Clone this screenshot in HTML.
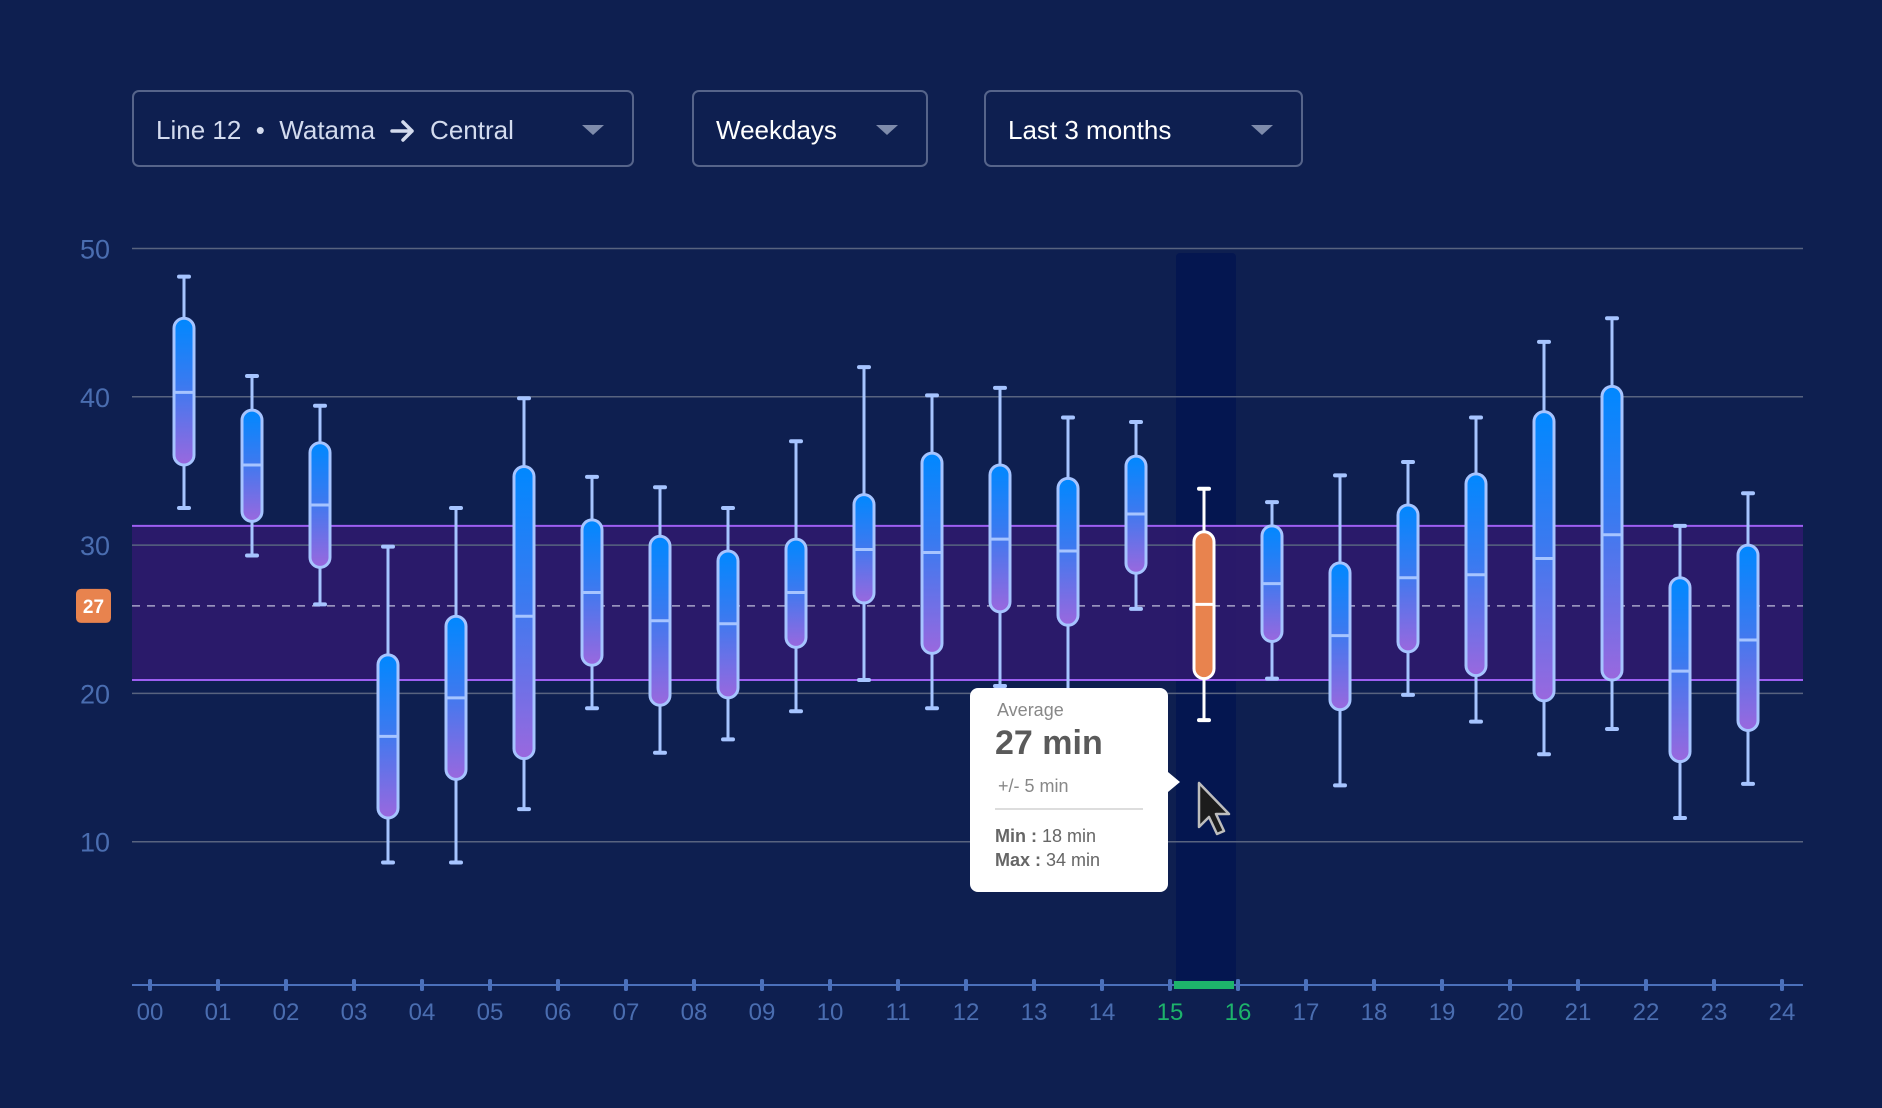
<!DOCTYPE html>
<html><head><meta charset="utf-8">
<style>
html,body{margin:0;padding:0;background:#0e1f50;}
body{width:1882px;height:1108px;position:relative;overflow:hidden;font-family:"Liberation Sans",sans-serif;}
.dd{position:absolute;top:90px;height:77px;border:2px solid #56648a;border-radius:7px;box-sizing:border-box;color:#d3dbee;font-size:26px;line-height:77px;padding-left:22px;}
.dd .car{position:absolute;top:33px;width:0;height:0;border-left:11px solid transparent;border-right:11px solid transparent;border-top:10px solid #7e8bab;}
svg.main{position:absolute;left:0;top:0;}
.tip{position:absolute;left:970px;top:688px;width:198px;height:204px;background:#fff;border-radius:8px;color:#666;}
.tip:after{content:"";position:absolute;right:-12px;top:84px;border-top:10px solid transparent;border-bottom:10px solid transparent;border-left:12px solid #fff;}
</style></head>
<body>
<div class="dd" style="left:132px;width:502px;">Line 12 &nbsp;•&nbsp; Watama &nbsp;<svg width="26" height="22" viewBox="0 0 26 22" style="vertical-align:-3px"><path d="M2 11 H22 M13 2 L22 11 L13 20" stroke="#d3dbee" stroke-width="3.5" fill="none" stroke-linecap="round" stroke-linejoin="round"/></svg>&nbsp; Central<span class="car" style="right:28px"></span></div>
<div class="dd" style="left:692px;width:236px;color:#fff">Weekdays<span class="car" style="right:28px"></span></div>
<div class="dd" style="left:984px;width:319px;color:#fff">Last 3 months<span class="car" style="right:28px"></span></div>

<svg id="chart" class="main" width="1882" height="1108"></svg>

<div class="tip">
 <div style="position:absolute;left:27px;top:12px;font-size:18px;color:#888">Average</div>
 <div style="position:absolute;left:25px;top:36px;font-size:34px;font-weight:bold;color:#5a5a5a">27 min</div>
 <div style="position:absolute;left:28px;top:88px;font-size:18px;color:#888">+/- 5 min</div>
 <div style="position:absolute;left:25px;right:25px;top:120px;border-top:2px solid #ddd"></div>
 <div style="position:absolute;left:25px;top:136px;font-size:18px;color:#666;line-height:24px"><b>Min :</b> 18 min<br><b>Max :</b> 34 min</div>
</div>

<script>
const hours = ["00","01","02","03","04","05","06","07","08","09","10","11","12","13","14","15","16","17","18","19","20","21","22","23","24"];
const whiskerHigh = [48.1,41.4,39.4,29.9,32.5,39.9,34.6,33.9,32.5,37.0,42.0,40.1,40.6,38.6,38.3,33.8,32.9,34.7,35.6,38.6,43.7,45.3,31.3,33.5];
const q3 = [45.3,39.1,36.9,22.6,25.2,35.3,31.7,30.6,29.6,30.4,33.4,36.2,35.4,34.5,36.0,30.9,31.3,28.8,32.7,34.8,39.0,40.7,27.8,30.0];
const median = [40.3,35.4,32.7,17.1,19.7,25.2,26.8,24.9,24.7,26.8,29.7,29.5,30.4,29.6,32.1,26.0,27.4,23.9,27.8,28.0,29.1,30.7,21.5,23.6];
const q1 = [35.4,31.6,28.5,11.6,14.2,15.6,21.9,19.2,19.7,23.1,26.1,22.7,25.5,24.6,28.1,21.0,23.5,18.9,22.8,21.2,19.5,20.9,15.4,17.5];
const whiskerLow = [32.5,29.3,26.0,8.6,8.6,12.2,19.0,16.0,16.9,18.8,20.9,19.0,20.5,20.1,25.7,18.2,21.0,13.8,19.9,18.1,15.9,17.6,11.6,13.9];
const yTicks = [10,20,30,40,50];
const bandHigh = 31.3, bandLow = 20.9, avgLine = 25.9, avgLabel = "27";
const selected = 15;

const NS="http://www.w3.org/2000/svg";
const svg=document.getElementById('chart');
const X0=150, DX=68, XR=1803, XL=132;
function y(v){return 990 - v*14.83;}
function xc(i){return X0 + DX*(i+0.5);}
function xt(i){return X0 + DX*i;}
function mk(tag,attrs,parent){const e=document.createElementNS(NS,tag);for(const k in attrs)e.setAttribute(k,attrs[k]);(parent||svg).appendChild(e);return e;}

const defs=mk('defs',{});
const g=mk('linearGradient',{id:'bg',x1:0,y1:0,x2:0,y2:1},defs);
mk('stop',{offset:'0','stop-color':'#0088ff'},g);
mk('stop',{offset:'0.45','stop-color':'#3a7af0'},g);
mk('stop',{offset:'1','stop-color':'#9a68de'},g);

let e=mk('rect',{x:xt(selected)+6,y:253,width:DX-8,height:732,fill:'#041650',rx:4});



e=mk('rect',{x:XL,y:y(bandHigh),width:XR-XL,height:y(bandLow)-y(bandHigh),fill:'#2c1a6c',opacity:0.92});



yTicks.forEach(t=>{
  const l=mk('line',{x1:XL,x2:XR,y1:y(t),y2:y(t),stroke:'#58637f','stroke-width':1.5});
  
  
  const tx=mk('text',{x:110,y:y(t)+10,'text-anchor':'end','font-size':27,fill:'#4a6db0','font-family':'Liberation Sans, sans-serif'});
  tx.textContent=t;
  
  
});
[bandHigh,bandLow].forEach((v,k)=>{
  const l=mk('line',{x1:XL,x2:XR,y1:y(v),y2:y(v),stroke:'#9d5ff2','stroke-width':2});
  
  
});
e=mk('line',{x1:XL,x2:XR,y1:y(avgLine),y2:y(avgLine),stroke:'#a7a3c8','stroke-width':1.5,'stroke-dasharray':'8 7'});


e=mk('rect',{x:76,y:y(avgLine)-17,width:35,height:34,rx:5,fill:'#e8834e'});


e=mk('text',{x:93.5,y:y(avgLine)+7,'text-anchor':'middle','font-size':19,'font-weight':'bold',fill:'#fff'});
e.textContent=avgLabel;



for(let i=0;i<q3.length;i++){
  const sel=i===selected;
  const c=xc(i), stroke=sel?'#ffffff':'#a6c4ff';
  const grp=mk('g',{});
  
  
  mk('line',{x1:c,x2:c,y1:y(whiskerHigh[i]),y2:y(whiskerLow[i]),stroke:stroke,'stroke-width':3},grp);
  mk('line',{x1:c-5,x2:c+5,y1:y(whiskerHigh[i]),y2:y(whiskerHigh[i]),stroke:stroke,'stroke-width':4,'stroke-linecap':'round'},grp);
  mk('line',{x1:c-5,x2:c+5,y1:y(whiskerLow[i]),y2:y(whiskerLow[i]),stroke:stroke,'stroke-width':4,'stroke-linecap':'round'},grp);
  mk('rect',{x:c-10,y:y(q3[i]),width:20,height:y(q1[i])-y(q3[i]),rx:10,fill:sel?'#e8834e':'url(#bg)',stroke:stroke,'stroke-width':3},grp);
  mk('line',{x1:c-10,x2:c+10,y1:y(median[i]),y2:y(median[i]),stroke:stroke,'stroke-width':3},grp);
}

e=mk('line',{x1:XL,x2:XR,y1:985,y2:985,stroke:'#4b70bb','stroke-width':2});


e=mk('rect',{x:xt(selected)+4,y:981,width:DX-8,height:8,fill:'#1db36b'});


hours.forEach((h,i)=>{
  mk('rect',{x:xt(i)-2,y:979,width:4,height:12,rx:1.5,fill:'#4b70bb'});
  const sel=(i===selected||i===selected+1);
  const t=mk('text',{x:xt(i),y:1020,'text-anchor':'middle','font-size':24,fill:sel?'#1db36b':'#4a6db0'});
  t.textContent=h;
  
  
});

e=mk('path',{d:'M1199 783 L1199 827 L1209 817 L1217 834 L1224 831 L1216 814 L1229 814 Z',fill:'#1c1c1c',stroke:'#bdbdbd','stroke-width':2.5,'stroke-linejoin':'round'});


</script>
</body></html>
